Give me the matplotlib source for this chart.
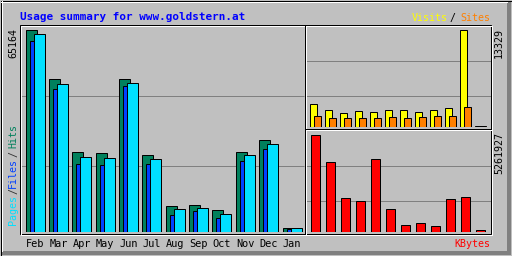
import matplotlib
matplotlib.use('Agg')

import matplotlib.pyplot as plt
import numpy as np
from matplotlib.patches import Rectangle
from matplotlib.transforms import blended_transform_factory

months = ["Feb", "Mar", "Apr", "May", "Jun", "Jul", "Aug", "Sep", "Oct", "Nov", "Dec", "Jan"]
hits = [65164, 49287, 25961, 25640, 49287, 24997, 8611, 8932, 7326, 25961, 29817, 1542]
files = [61626, 46203, 22105, 21784, 47167, 22105, 5719, 7004, 4755, 23069, 26925, 1221]
pages = [63874, 47809, 24355, 24033, 48131, 23712, 7647, 7968, 6040, 24997, 28531, 1542]
visits = [3169, 2353, 1945, 2217, 2081, 2353, 2353, 2081, 2353, 2625, 13329, 150]
sites = [1537, 1265, 1265, 1265, 1265, 1401, 1265, 1401, 1537, 1537, 2761, 120]
kbytes = [5261927, 3800560, 1819990, 1675460, 3961150, 1247230, 374700, 481760, 321170, 1766460, 1873520, 107060]

W, H = 512, 256
BG = "#c0c0c0"
GRID = "#808080"
MONO = "DejaVu Sans Mono"
LW = 0.72  # one pixel

fig = plt.figure(figsize=(W / 100, H / 100), dpi=100, facecolor=BG)


def px_axes(x0, y0, x1, y1, z):
    a = fig.add_axes([x0 / W, 1 - y1 / H, (x1 - x0) / W, (y1 - y0) / H])
    a.set_zorder(z)
    a.axis("off")
    return a


# background layer: grid lines
bg = px_axes(0, 0, W, H, 0)
bg.set_xlim(0, W)
bg.set_ylim(H, 0)
bg.hlines([95.5, 165.5], 21, 304, color=GRID, lw=LW)
bg.hlines([60.5, 95.5], 306, 491, color=GRID, lw=LW)
bg.hlines([165.5, 200.5], 306, 491, color=GRID, lw=LW)

x = np.arange(len(months))

# left chart: hits / files / pages
ax = px_axes(21, 25.5, 304, 232.3, 1)
lo = -0.197
ax.set_xlim(lo, lo + 283 / 23.36)
ax.set_ylim(0, max(hits) * (232.3 - 25.5) / (232.3 - 29.8))
bw = 0.471
ax.bar(x, hits, width=bw, align="edge", color="#00805c", edgecolor="black", lw=LW)
ax.bar(x + 0.171, files, width=bw, align="edge", color="#0040ff", edgecolor="black", lw=LW)
ax.bar(x + 0.342, pages, width=bw, align="edge", color="#00e0ff", edgecolor="black", lw=LW)

# right top: visits / sites
ax2 = px_axes(306, 25.5, 491, 127.3, 1)
lo2 = -0.24
ax2.set_xlim(lo2, lo2 + 185 / 15)
ax2.set_ylim(0, max(visits) * (127.3 - 25.5) / (127.3 - 29.8))
ax2.bar(x, visits, width=0.467, align="edge", color="#ffff00", edgecolor="black", lw=LW)
ax2.bar(x + 0.267, sites, width=0.467, align="edge", color="#ff8000", edgecolor="black", lw=LW)

# right bottom: kbytes
ax3 = px_axes(306, 130.5, 491, 232.3, 1)
ax3.set_xlim(lo2, lo2 + 185 / 15)
ax3.set_ylim(0, max(kbytes) * (232.3 - 130.5) / (232.3 - 134.5))
ax3.bar(x + 0.067, kbytes, width=0.6, align="edge", color="#ff0000", edgecolor="black", lw=LW)

# foreground layer: frames and text
fg = px_axes(0, 0, W, H, 5)
fg.set_xlim(0, W)
fg.set_ylim(H, 0)

fg.add_patch(Rectangle((507, 1), 4, 254, color="#808080", lw=0))
fg.add_patch(Rectangle((1, 251), 510, 4, color="#808080", lw=0))
fg.add_patch(Rectangle((0.5, 0.5), 511, 255, fill=False, ec="black", lw=LW))
fg.plot([1, 507], [1.5, 1.5], color="white", lw=LW)
fg.plot([1.5, 1.5], [1, 251], color="white", lw=LW)

fg.add_patch(Rectangle((19.5, 24.5), 471, 209, fill=False, ec="black", lw=LW))
fg.add_patch(Rectangle((20.5, 25.5), 471, 209, fill=False, ec="white", lw=LW))
fg.plot([304.5, 304.5], [24.5, 233.5], color="black", lw=LW)
fg.plot([305.5, 305.5], [25.5, 234.5], color="white", lw=LW)
fg.plot([304.5, 490.5], [128.5, 128.5], color="black", lw=LW)
fg.plot([305.5, 491.5], [129.5, 129.5], color="white", lw=LW)

fg.text(20, 19.5, "Usage summary for www.goldstern.at", color="#0000ff",
        family=MONO, weight="bold", fontsize=7.9, va="baseline", ha="left")

fg.text(412, 20.7, "Visits", color="#ffff00", family=MONO, fontsize=7.2, va="baseline")
fg.text(452, 20.7, "/", color="black", family=MONO, fontsize=7.2, va="baseline", ha="center")
fg.text(460, 20.7, "Sites", color="#ff8000", family=MONO, fontsize=7.2, va="baseline")
fg.text(490, 246.8, "KBytes", color="#ff0000", family=MONO, fontsize=7.2,
        va="baseline", ha="right")

fg.text(13, 42.5, str(max(hits)), rotation=90, family=MONO, fontsize=7.2,
        ha="center", va="center")
fg.text(499, 42.5, str(max(visits)), rotation=90, family=MONO, fontsize=7.2,
        ha="center", va="center")
fg.text(499, 152.5, str(max(kbytes)), rotation=90, family=MONO, fontsize=7.2,
        ha="center", va="center")

legend_parts = [("Pages", "#00e0ff", 210), ("/", "#303030", 190.5), ("Files", "#0040ff", 172.5),
                ("/", "#303030", 154), ("Hits", "#00805c", 135.8)]
for txt, col, yc in legend_parts:
    fg.text(13, yc, txt, rotation=90, color=col, family=MONO, fontsize=7.2,
            ha="center", va="center")

tr = blended_transform_factory(ax.transData, fg.transData)
for i, m in enumerate(months):
    fg.text(i + 0.4065, 247, m, transform=tr, family=MONO, fontsize=7.4,
            ha="center", va="baseline")

fig.savefig("out.png", dpi=100, facecolor=BG)
